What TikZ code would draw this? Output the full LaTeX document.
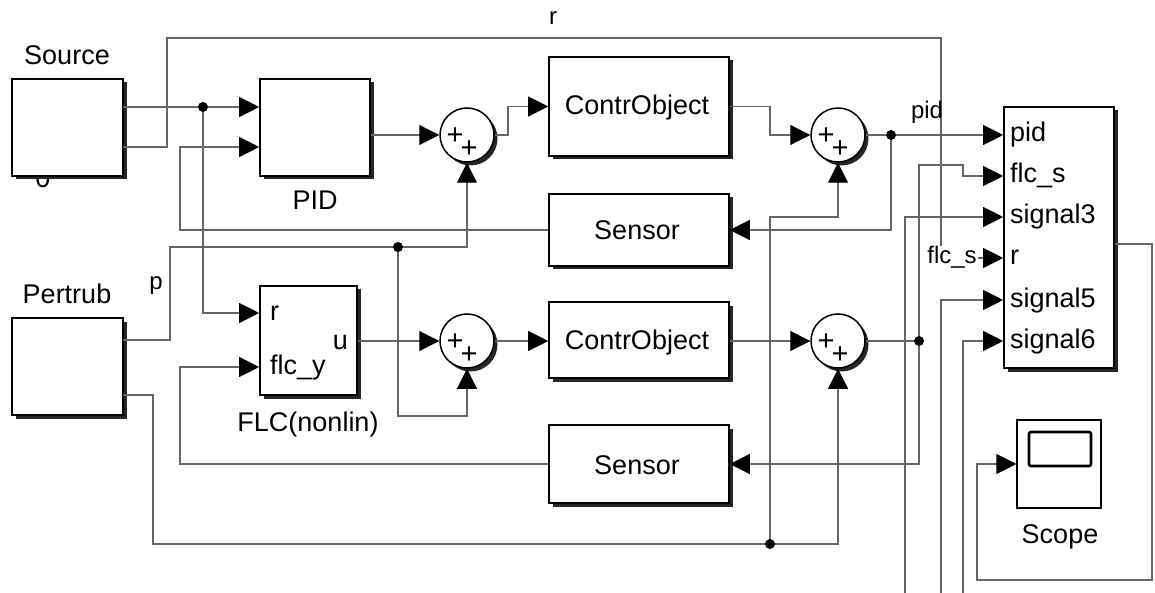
\documentclass[tikz,border=0pt]{standalone}
\usepackage{fontspec}
\setmainfont{Liberation Sans}
\usetikzlibrary{arrows.meta,shadows}
\begin{document}
\begin{tikzpicture}[x=1pt,y=-1pt,
  shd/.style={drop shadow={shadow xshift=3.5pt,shadow yshift=-3.5pt,opacity=1,fill=black!85}},
  blk/.style={draw=black,line width=1.6pt,fill=white,inner sep=0pt,shd},
  sumc/.style={circle,draw=black,line width=1.5pt,fill=white,minimum size=54pt,inner sep=0pt,shd},
  sig/.style={draw=black!60,line width=1.1pt},
  arr/.style={-{Triangle[length=20pt,width=20pt,color=black]}},
  lbl/.style={font=\fontsize{27}{30}\selectfont,inner sep=0pt,anchor=base},
  slbl/.style={font=\fontsize{24}{28}\selectfont,inner sep=0pt,anchor=base},
  pls/.style={font=\fontsize{29}{32}\selectfont,inner sep=0pt},
  dotn/.style={circle,fill=black,minimum size=10pt,inner sep=0pt},
]
\useasboundingbox (0,0) rectangle (1155,593);

% partly hidden text under Source
\node[lbl] (zero) at (43,188) {0};

% blocks
\node[blk,minimum width=111pt,minimum height=97pt] (src) at (67.5,127.5) {};
\node[blk,minimum width=110pt,minimum height=97pt] (pid) at (315,127.5) {};
\node[blk,minimum width=180pt,minimum height=99pt] (co1) at (639,106.5) {};
\node[blk,minimum width=180pt,minimum height=72pt] (sen1) at (639,230) {};
\node[blk,minimum width=111pt,minimum height=97pt] (pert) at (67.5,366.5) {};
\node[blk,minimum width=97pt,minimum height=109pt] (flc) at (308.5,340.5) {};
\node[blk,minimum width=180pt,minimum height=76pt] (co2) at (639,340) {};
\node[blk,minimum width=180pt,minimum height=78pt] (sen2) at (639,464) {};
\node[blk,minimum width=110pt,minimum height=261pt] (mux) at (1059,237.5) {};
\node[draw=black,line width=1.2pt,fill=white,minimum width=84pt,minimum height=88pt,inner sep=0pt] (scope) at (1059,464) {};
\draw[line width=2.6pt,rounded corners=2pt] (1029,432) rectangle (1091,466);

% sums
\node[sumc] (s1) at (467,135) {};
\node[sumc] (s2) at (838,135) {};
\node[sumc] (s3) at (467,341) {};
\node[sumc] (s4) at (838,341) {};
\foreach \s in {s1,s2,s3,s4}{
  \node[pls] at ([shift={(-12,1)}]\s.center) {+};
  \node[pls] at ([shift={(2,14)}]\s.center) {+};
}

% junctions and free ends
\coordinate (srcO1) at (123,107);
\coordinate (srcO2) at (123,147);
\coordinate (pertO1) at (123,340);
\coordinate (pertO2) at (123,395);
\coordinate (e3) at (905,593);
\coordinate (e5) at (941,593);
\coordinate (e6) at (963,593);

% connectors
\draw[sig,arr] (srcO1) -- (pid.west |- srcO1);
\draw[sig,arr] (srcO2) -| (167,38) -| (941,258) -- (mux.west |- 0,258);
\draw[sig,arr] (203,107) |- (flc.west |- 0,313);
\draw[sig,arr] (sen1.west) -| (180,147) -- (pid.west |- 0,147);
\draw[sig,arr] (pid.east |- 0,135) -- (s1.west);
\draw[sig,arr] (s1.east) -| (508,106.5) -- (co1.west);
\draw[sig,arr] (co1.east) -| (770,135) -- (s2.west);
\draw[sig,arr] (s2.east) -- (mux.west |- 0,135);
\draw[sig,arr] (891,135) |- (sen1.east);
\draw[sig,arr] (pertO1) -| (170,247) -| (s1.south);
\draw[sig,arr] (398,247) -- (398,416) -| (s3.south);
\draw[sig,arr] (flc.east |- s3) -- (s3.west);
\draw[sig,arr] (s3.east) -- (co2.west |- s3);
\draw[sig,arr] (co2.east |- s4) -- (s4.west);
\draw[sig,arr] (s4.east) -| (919,464) -- (sen2.east);
\draw[sig,arr] (919,341) -- (919,165) -| (963,176) -- (mux.west |- 0,176);
\draw[sig,arr] (sen2.west) -| (180,367) -- (flc.west |- 0,367);
\draw[sig,arr] (pertO2) -| (153,544) -| (s4.south);
\draw[sig,arr] (770,544) |- (s2.south |- 0,217) -- (s2.south);
\draw[sig,arr] (e3) |- (mux.west |- 0,217);
\draw[sig,arr] (e5) |- (mux.west |- 0,300);
\draw[sig,arr] (e6) |- (mux.west |- 0,341);
\draw[sig,arr] (mux.east |- 0,244) -| (1152,580) -| (977,464) -- (scope.west);

% dots
\node[dotn] (d1) at (203,107) {};
\node[dotn] (d2) at (891,135) {};
\node[dotn] (d3) at (398,247) {};
\node[dotn] (d4) at (919,341) {};
\node[dotn] (d5) at (770,544) {};

% labels
\node[lbl] at (67,65) {Source};
\node[lbl] at (315,210) {PID};
\node[lbl] at (637,115) {ContrObject};
\node[lbl] at (637,240) {Sensor};
\node[lbl] at (67,303) {Pertrub};
\node[lbl] at (308,431) {FLC(nonlin)};
\node[lbl] at (637,349) {ContrObject};
\node[lbl] at (637,474) {Sensor};
\node[lbl] at (1060,543) {Scope};
\node[lbl,anchor=base west] at (270,320) {r};
\node[lbl,anchor=base west] at (270,374) {flc\_y};
\node[lbl,anchor=base east] at (348,349) {u};
\node[lbl,anchor=base west] at (1010,142) {pid};
\node[lbl,anchor=base west] at (1010,183) {flc\_s};
\node[lbl,anchor=base west] at (1010,224) {signal3};
\node[lbl,anchor=base west] at (1010,265) {r};
\node[lbl,anchor=base west] at (1010,307) {signal5};
\node[lbl,anchor=base west] at (1010,348) {signal6};
\node[slbl] at (553,25) {r};
\node[slbl] at (927,119) {pid};
\node[slbl] at (156,290) {p};
\node[slbl,fill=white,inner sep=1pt] at (952,264) {flc\_s};
\end{tikzpicture}
\end{document}
